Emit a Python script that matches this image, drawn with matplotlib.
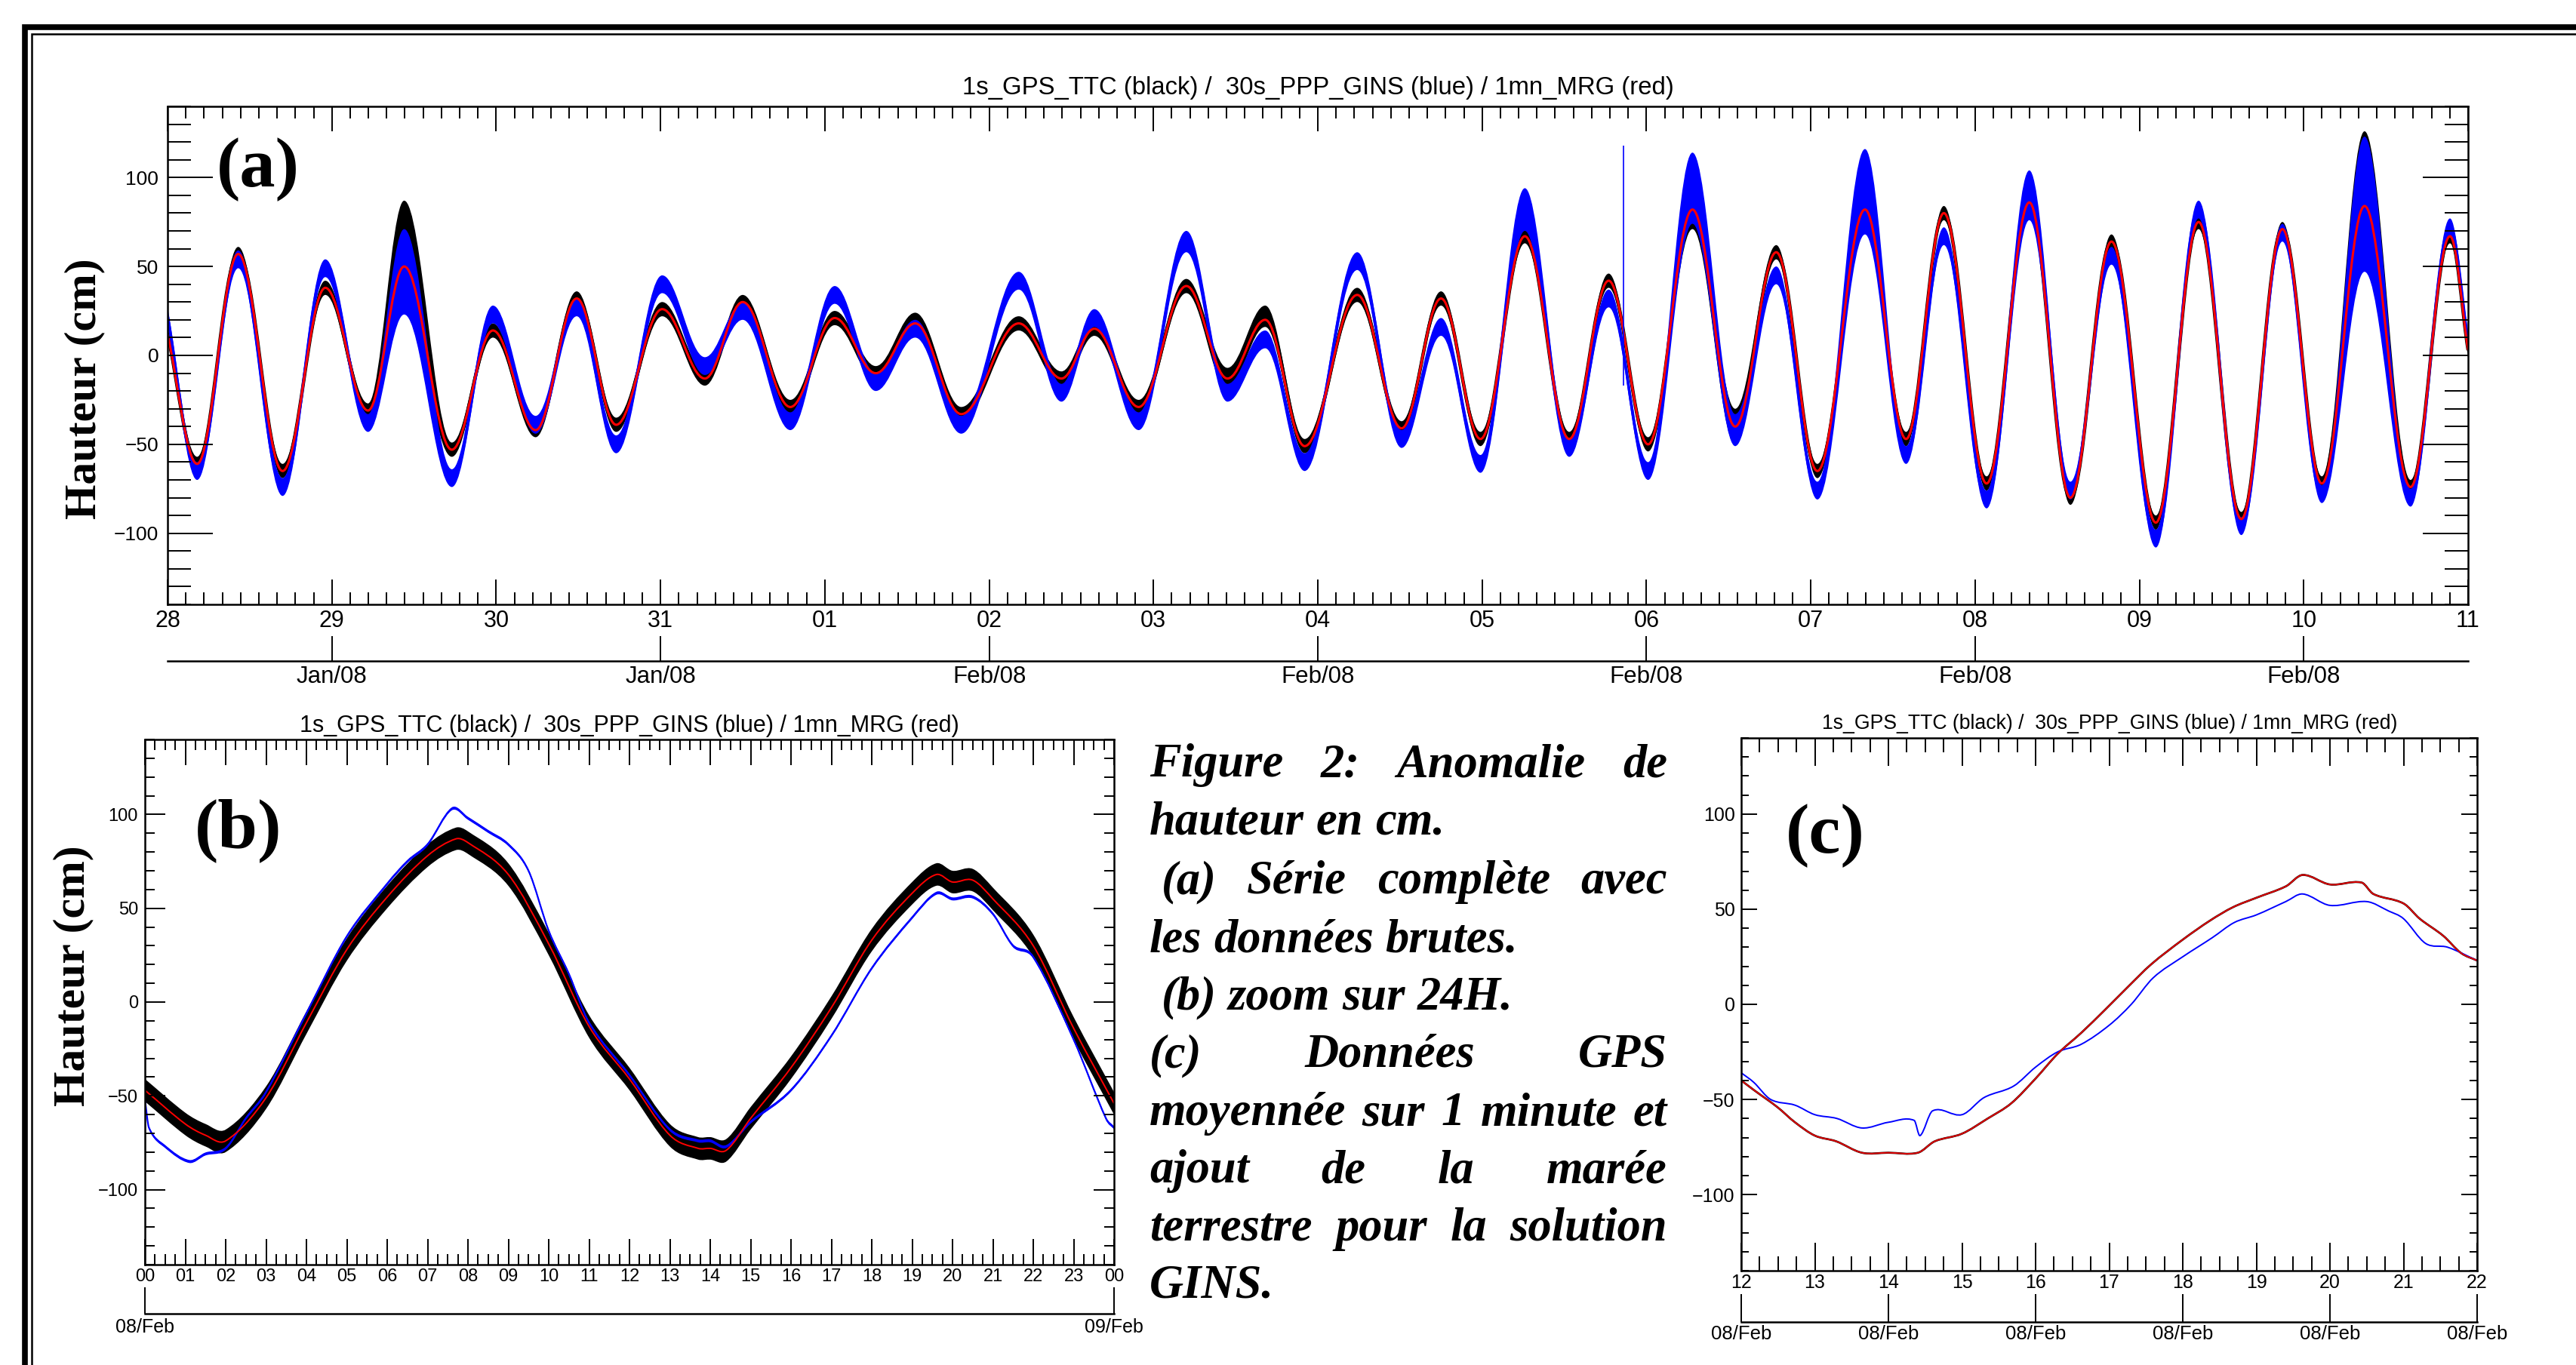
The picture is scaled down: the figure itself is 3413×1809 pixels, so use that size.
import numpy as np
import matplotlib
matplotlib.use('Agg')
import matplotlib.pyplot as plt
from matplotlib.lines import Line2D
from matplotlib.path import Path
from matplotlib.patches import PathPatch
from matplotlib.ticker import MultipleLocator, NullLocator

W, H = 3413, 1809
DPI = 100

SANS = ['Liberation Sans', 'DejaVu Sans']
SERIF = ['Liberation Serif', 'DejaVu Serif']

TITLE = '1s_GPS_TTC (black) /  30s_PPP_GINS (blue) / 1mn_MRG (red)'

# ---- (a) serie complete : jours depuis le 28 jan 00h (extrema)
t_a = [0.00, 0.18, 0.43, 0.70, 0.96, 1.22, 1.44, 1.73, 1.98, 2.24, 2.49, 2.73, 3.01, 3.27,
       3.50, 3.79, 4.06, 4.31, 4.55, 4.83, 5.18, 5.44, 5.64, 5.91, 6.20, 6.45, 6.68, 6.92,
       7.24, 7.51, 7.75, 7.99, 8.26, 8.53, 8.77, 9.01, 9.28, 9.54, 9.79, 10.04, 10.33, 10.58,
       10.81, 11.07, 11.33, 11.58, 11.83, 12.10, 12.36, 12.62, 12.87, 13.11, 13.37, 13.65, 13.89, 14.00]
red_a = [12, -61, 57, -65, 38, -31, 50, -53, 14, -42, 32, -39, 26, -13,
         30, -29, 21, -10, 18, -33, 18, -13, 15, -29, 39, -13, 20, -51,
         34, -41, 32, -47, 67, -47, 42, -50, 82, -40, 58, -65, 82, -47,
         80, -72, 86, -80, 64, -94, 75, -92, 71, -72, 84, -74, 67, 3]
black_a = [12, -61, 57, -65, 38, -31, 57, -53, 14, -42, 32, -39, 26, -13,
           30, -29, 21, -10, 20, -33, 18, -13, 15, -29, 39, -13, 22, -51,
           34, -41, 32, -47, 67, -47, 42, -50, 79, -40, 58, -65, 77, -47,
           80, -72, 86, -80, 64, -94, 75, -92, 71, -72, 88, -74, 67, 3]
blue_a = [22, -65, 54, -74, 49, -38, 47, -69, 23, -39, 27, -50, 40, -6,
          25, -37, 34, -15, 15, -39, 42, -21, 21, -37, 64, -21, 9, -60,
          53, -47, 16, -61, 82, -52, 32, -65, 94, -42, 45, -76, 92, -56,
          67, -81, 90, -76, 56, -103, 82, -96, 69, -78, 85, -80, 72, 8]
black_spread_a = [4, 4, 4, 4, 4, 4, 30, 4, 4, 4, 4, 4, 4, 4,
                  4, 4, 4, 4, 4, 4, 4, 4, 4, 4, 4, 6, 6, 4,
                  4, 4, 4, 4, 4, 4, 4, 4, 8, 10, 4, 4, 8, 4,
                  4, 4, 4, 4, 4, 4, 4, 4, 4, 4, 38, 4, 4, 4]
blue_spread_a = [5, 5, 5, 5, 5, 5, 24, 5, 5, 5, 5, 5, 5, 5,
                 5, 5, 5, 5, 5, 5, 5, 5, 5, 5, 6, 5, 5, 5,
                 5, 5, 5, 5, 12, 5, 5, 5, 20, 9, 5, 5, 24, 5,
                 5, 5, 14, 5, 5, 5, 5, 5, 5, 5, 38, 5, 5, 5]
spike_t, spike_lo, spike_hi = 8.86, -17, 118
day_labels = ['28', '29', '30', '31', '01', '02', '03', '04', '05', '06', '07', '08', '09', '10', '11']
month_pos_a = [1, 3, 5, 7, 9, 11, 13]
month_labels_a = ['Jan/08', 'Jan/08', 'Feb/08', 'Feb/08', 'Feb/08', 'Feb/08', 'Feb/08']

# ---- (b) zoom 24H le 08 fev (heures)
hours_b = [0, 1, 1.5, 2, 3, 4, 5, 6, 7, 7.7, 8, 9, 10, 11, 12, 13, 13.7, 14, 14.4, 15,
           16, 17, 18, 19, 19.6, 20, 20.5, 21, 22, 23, 24]
red_b = [-47, -65, -71, -74, -51, -11, 28, 56, 78, 87, 85, 68, 31, -13, -41, -71, -78, -78, -79, -62,
         -35, -3, 33, 58, 68, 64, 65, 55, 30, -14, -54]
black_spread_b = 6
hours_b_blue = [0, 0.1, 0.5, 1.1, 1.5, 2, 2.5, 3, 4, 5, 6, 6.5, 7, 7.6, 8, 8.5, 9, 9.5, 10, 10.5,
                11, 12, 13, 13.7, 14, 14.4, 15, 16, 17, 18, 19, 19.6, 20, 20.5, 21, 21.5, 22, 23, 23.8, 24]
blue_b = [-52, -67, -77, -85, -81, -78, -62, -48, -6, 35, 63, 75, 84, 103, 98, 91, 84, 70, 38, 15,
          -11, -39, -68, -74, -74, -77, -64, -47, -18, 18, 45, 58, 55, 56, 47, 30, 24, -20, -62, -67]
blue_spread_b = 0.8
hour_labels_b = ['%02d' % (h % 24) for h in range(25)]

# ---- (c) moyenne 1 minute, 12h-22h le 08 fev
hours_c = [12.0, 12.17, 12.49, 12.73, 13.0, 13.29, 13.64, 14.0, 14.4, 14.63, 15.0, 15.35, 15.67,
           16.0, 16.3, 16.62, 16.94, 17.25, 17.57, 18.0, 18.37, 18.68, 19.0, 19.4, 19.63, 20.0,
           20.43, 20.59, 21.0, 21.22, 21.54, 21.78, 22.0]
red_c = [-40, -45, -54, -62, -69, -72, -78, -78, -78, -72, -68, -60, -52, -39, -26, -15, -3, 9,
         21, 34, 44, 51, 56, 62, 68, 63, 64, 58, 53, 45, 36, 27, 23]
hours_c_blue = [12.0, 12.17, 12.4, 12.73, 13.0, 13.3, 13.64, 14.0, 14.35, 14.43, 14.6, 15.0, 15.3,
                15.7, 16.0, 16.3, 16.62, 17.0, 17.3, 17.6, 18.0, 18.4, 18.7, 19.0, 19.4, 19.63,
                20.0, 20.5, 20.8, 21.0, 21.3, 21.6, 22.0]
blue_c = [-36, -41, -50, -53, -58, -60, -65, -62, -61, -69, -56, -58, -49, -43, -33, -25, -21, -11,
          0, 14, 25, 35, 43, 47, 54, 58, 52, 54, 49, 45, 32, 30, 23]
hour_labels_c = [str(h) for h in range(12, 23)]

caption = ['Figure 2: Anomalie de', 'hauteur en cm.', ' (a) Série complète avec',
           'les données brutes.', ' (b) zoom sur 24H.', '(c) Données GPS',
           'moyennée sur 1 minute et', 'ajout de la marée', 'terrestre pour la solution', 'GINS.']
caption_justify = [True, False, True, False, False, True, True, True, True, False]


def px_box(x0, y0, x1, y1):
    return [x0 / W, 1 - y1 / H, (x1 - x0) / W, (y1 - y0) / H]


def tide_curve(t, v, k=0.3634):
    # Bezier par les extrema, tangente horizontale a chaque extremum
    verts = [(t[0], v[0])]
    n = len(t)
    for i in range(n - 1):
        dt = t[i + 1] - t[i]
        if i == 0:
            c1 = (t[i] + dt / 3, v[i] + (v[i + 1] - v[i]) / 3)
        else:
            c1 = (t[i] + k * dt, v[i])
        if i + 1 == n - 1:
            c2 = (t[i + 1] - dt / 3, v[i + 1] - (v[i + 1] - v[i]) / 3)
        else:
            c2 = (t[i + 1] - k * dt, v[i + 1])
        verts += [c1, c2, (t[i + 1], v[i + 1])]
    codes = [Path.MOVETO] + [Path.CURVE4] * (len(verts) - 1)
    return verts, codes


def smooth_curve(t, v):
    # Bezier d'Hermite par tous les points lus (pentes centrees)
    n = len(t)
    slope = []
    for i in range(n):
        a, b = max(i - 1, 0), min(i + 1, n - 1)
        slope.append((v[b] - v[a]) / (t[b] - t[a]))
    verts = [(t[0], v[0])]
    for i in range(n - 1):
        d = (t[i + 1] - t[i]) / 3
        verts += [(t[i] + d, v[i] + d * slope[i]), (t[i + 1] - d, v[i + 1] - d * slope[i + 1]),
                  (t[i + 1], v[i + 1])]
    codes = [Path.MOVETO] + [Path.CURVE4] * (len(verts) - 1)
    return verts, codes


def band(ax, curve, t, v, spread, color):
    v = np.asarray(v, float)
    s = np.broadcast_to(np.asarray(spread, float), v.shape)
    up, cu = curve(t, v + s)
    lo, cl = curve(t, v - s)
    verts = up + lo[::-1] + [up[0]]
    codes = cu + [Path.LINETO] + [Path.CURVE4] * (len(lo) - 1) + [Path.CLOSEPOLY]
    ax.add_patch(PathPatch(Path(verts, codes), facecolor=color, edgecolor='none'))


def line(ax, curve, t, v, color, lw):
    verts, codes = curve(t, list(map(float, v)))
    ax.add_patch(PathPatch(Path(verts, codes), fill=False, edgecolor=color, lw=lw))


def style_axes(ax, ymaj_len, ymin_len, xmaj_len, xmin_len, ylab_size, ypad):
    ax.set_ylim(-140, 140)
    ax.set_yticks([-100, -50, 0, 50, 100])
    ax.yaxis.set_minor_locator(MultipleLocator(10))
    ax.tick_params(which='both', direction='in', top=True, right=True, width=1.4, color='black')
    ax.tick_params(axis='y', which='major', length=ymaj_len, labelsize=ylab_size, pad=ypad,
                   labelfontfamily=SANS)
    ax.tick_params(axis='y', which='minor', length=ymin_len)
    ax.tick_params(axis='x', which='major', length=xmaj_len)
    ax.tick_params(axis='x', which='minor', length=xmin_len)
    for s in ax.spines.values():
        s.set_linewidth(1.8)


def date_axis(ax, loc, pos, labels, length, size, pad):
    sec = ax.secondary_xaxis(loc)
    sec.set_xticks(pos, labels)
    sec.xaxis.set_minor_locator(NullLocator())
    sec.tick_params(direction='in', length=length, width=1.4, labelsize=size, pad=pad,
                    labelfontfamily=SANS)
    sec.spines['bottom'].set_linewidth(1.8)
    return sec


fig = plt.figure(figsize=(W / DPI, H / DPI), dpi=DPI)

# cadre
fig.add_artist(Line2D([33 / W, 33 / W, 1.01], [-0.01, 1 - 36 / H, 1 - 36 / H], transform=fig.transFigure,
                      color='black', lw=5.5, solid_joinstyle='miter'))
fig.add_artist(Line2D([42 / W, 42 / W, 1.01], [-0.01, 1 - 45 / H, 1 - 45 / H], transform=fig.transFigure,
                      color='black', lw=1.8, solid_joinstyle='miter'))

# ---- panneau (a)
ax_a = fig.add_axes(px_box(222, 141, 3270, 801))
band(ax_a, tide_curve, t_a, black_a, black_spread_a, 'black')
line(ax_a, tide_curve, t_a, black_a, 'black', 3.2)
band(ax_a, tide_curve, t_a, blue_a, blue_spread_a, 'blue')
line(ax_a, tide_curve, t_a, blue_a, 'blue', 2.6)
ax_a.vlines(spike_t, spike_lo, spike_hi, color='blue', lw=1.2)
line(ax_a, tide_curve, t_a, red_a, 'red', 2.2)
ax_a.set_xlim(0, 14)
ax_a.set_xticks(range(15), day_labels)
ax_a.xaxis.set_minor_locator(MultipleLocator(1 / 9))
style_axes(ax_a, 43, 22, 24, 11.5, 19, 8.5)
ax_a.tick_params(axis='x', labelsize=22, pad=5, labelfontfamily=SANS)
date_axis(ax_a, -75 / 660, month_pos_a, month_labels_a, 24, 22.5, 4)

# ---- panneau (b)
ax_b = fig.add_axes(px_box(192, 980, 1476, 1676))
band(ax_b, smooth_curve, hours_b, red_b, black_spread_b, 'black')
line(ax_b, smooth_curve, hours_b, red_b, 'black', 3.0)
band(ax_b, smooth_curve, hours_b_blue, blue_b, blue_spread_b, 'blue')
line(ax_b, smooth_curve, hours_b_blue, blue_b, 'blue', 1.6)
line(ax_b, smooth_curve, hours_b, red_b, 'red', 1.4)
ax_b.set_xlim(0, 24)
ax_b.set_xticks(range(25), hour_labels_b)
ax_b.xaxis.set_minor_locator(MultipleLocator(0.25))
style_axes(ax_b, 19.5, 9.5, 24.5, 10, 17, 6.5)
ax_b.tick_params(axis='x', labelsize=17, pad=3.6, labelfontfamily=SANS)
date_axis(ax_b, -65 / 696, [0, 24], ['08/Feb', '09/Feb'], 25, 18, 4)

# ---- panneau (c)
ax_c = fig.add_axes(px_box(2307, 978, 3282, 1684))
line(ax_c, smooth_curve, hours_c, red_c, 'black', 1.9)
line(ax_c, smooth_curve, hours_c_blue, blue_c, 'blue', 1.4)
line(ax_c, smooth_curve, hours_c, red_c, '#e00000', 1.4)
ax_c.set_xlim(12, 22)
ax_c.set_xticks(range(12, 23), hour_labels_c)
ax_c.xaxis.set_minor_locator(MultipleLocator(0.25))
style_axes(ax_c, 15, 7, 26.5, 14, 18, 6)
ax_c.tick_params(axis='x', labelsize=18, pad=3, labelfontfamily=SANS)
date_axis(ax_c, -68 / 706, [12, 14, 16, 18, 20, 22], ['08/Feb'] * 6, 26.5, 18.5, 3)

# titres
fig.text(1746 / W, 1 - 116 / H, TITLE, ha='center', va='center', fontsize=23.7, family=SANS)
fig.text(834 / W, 1 - 962 / H, TITLE, ha='center', va='center', fontsize=22, family=SANS)
fig.text(2795 / W, 1 - 959 / H, TITLE, ha='center', va='center', fontsize=19.2, family=SANS)

# lettres des panneaux et axe y
for lab, x, y in [('(a)', 342, 225), ('(b)', 316, 1101), ('(c)', 2418, 1108)]:
    fig.text(x / W, 1 - y / H, lab, ha='center', va='center', fontsize=68, family=SERIF, weight='bold')
for x, y in [(112, 515), (97, 1293)]:
    fig.text(x / W, 1 - y / H, 'Hauteur (cm)', ha='center', va='center', rotation=90,
             fontsize=43, family=SERIF, weight='bold')

# legende justifiee
renderer = fig.canvas.get_renderer()
cap_kw = dict(fontsize=45, family=SERIF, weight='bold', style='italic', va='baseline')
probe1 = fig.text(0, 0, 'a a', **cap_kw)
probe2 = fig.text(0, 0, 'aa', **cap_kw)
space_w = probe1.get_window_extent(renderer).width - probe2.get_window_extent(renderer).width
probe1.remove()
probe2.remove()
x_left, x_right = 1523, 2209
baselines = [1029, 1106, 1184, 1261, 1337, 1414, 1491, 1567, 1644, 1720]
for text_line, just, yb in zip(caption, caption_justify, baselines):
    words = text_line.split()
    texts = [fig.text(0, 1 - yb / H, w, **cap_kw) for w in words]
    widths = [tx.get_window_extent(renderer).width for tx in texts]
    start = x_left + (space_w if text_line.startswith(' ') else 0)
    if just and len(words) > 1:
        gap = (x_right - start - sum(widths)) / (len(words) - 1)
    else:
        gap = space_w
    x = start
    for tx, w in zip(texts, widths):
        tx.set_x(x / W)
        x += w + gap

fig.savefig('out.png', dpi=DPI)
